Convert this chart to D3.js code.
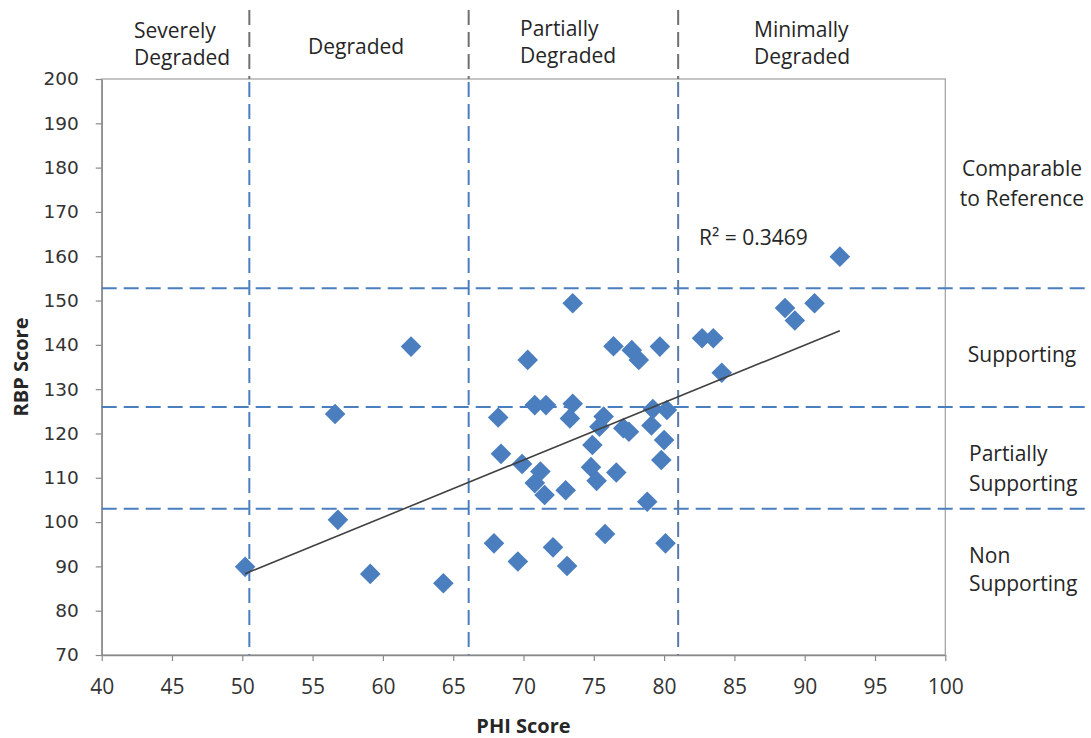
<!DOCTYPE html>
<html><head><meta charset="utf-8">
<script src="https://cdn.jsdelivr.net/npm/d3@7"></script>
<style>body{margin:0;background:#fff} svg{display:block}</style>
</head><body><svg id="c" width="1091" height="738"></svg>
<script>
// ---- data ----
const phiScores = [50.2,56.6,56.8,59.1,62.0,64.3,67.9,68.2,68.4,69.6,69.9,70.3,70.8,70.8,71.2,71.5,71.6,72.1,73.0,73.1,73.5,73.5,73.3,74.9,74.8,75.2,75.8,75.7,75.4,76.4,76.6,77.1,77.5,77.7,78.2,78.8,79.1,79.2,79.7,79.8,80.0,80.1,80.2,82.7,83.5,84.1,88.6,89.3,90.7,92.5];
const rbpScores = [89.9,124.4,100.5,88.3,139.6,86.2,95.2,123.6,115.4,91.1,113.1,136.6,126.4,108.8,111.4,106.1,126.4,94.3,107.2,90.1,149.4,126.7,123.4,117.4,112.4,109.3,97.3,123.8,121.5,139.7,111.2,121.2,120.4,138.8,136.6,104.6,121.8,125.5,139.6,114.0,118.5,95.2,125.3,141.5,141.5,133.7,148.3,145.5,149.4,159.9];
const xTickValues = [40,45,50,55,60,65,70,75,80,85,90,95,100];
const yTickValues = [70,80,90,100,110,120,130,140,150,160,170,180,190,200];
const phiThresholds = [50.5,66.1,81.0];
const rbpThresholds = [103,126,152.8];
const phiClassLabels = [["Severely","Degraded"],["Degraded"],["Partially","Degraded"],["Minimally","Degraded"]];
const rbpClassLabels = [["Comparable","to Reference"],["Supporting"],["Partially","Supporting"],["Non","Supporting"]];
const r2Label = "R\u00B2 = 0.3469";
const xTitle = "PHI Score", yTitle = "RBP Score";

const blue = "#4A7EBF";
const svg = d3.select("#c");
const x = d3.scaleLinear().domain([40,100]).range([101.7,945.3]);
const y = d3.scaleLinear().domain([70,200]).range([655,79]);
const FONT = "'Open Sans', sans-serif";

// plot frame
svg.append("rect").attr("x",x(40)).attr("y",y(200)).attr("width",x(100)-x(40)).attr("height",y(70)-y(200))
  .attr("fill","none").attr("stroke","#a6a6a6").attr("stroke-width",1.3);

// axes
const yAxis = svg.append("g").attr("transform",`translate(${x(40)},0)`)
  .call(d3.axisLeft(y).tickValues(yTickValues).tickSize(6).tickSizeOuter(0).tickPadding(17));
yAxis.selectAll("text").attr("font-family","'DejaVu Sans', sans-serif").attr("font-size","18.5px").attr("fill","#333");
const xAxis = svg.append("g").attr("transform",`translate(0,${y(70)})`)
  .call(d3.axisBottom(x).tickValues(xTickValues).tickSize(6).tickSizeOuter(0).tickPadding(18));
xAxis.selectAll("text").attr("font-family",FONT).attr("font-size","21px").attr("fill","#333");
[yAxis,xAxis].forEach(a=>{a.select(".domain").attr("stroke","#8a8a8a").attr("stroke-width",1.4);
  a.selectAll(".tick line").attr("stroke","#8a8a8a").attr("stroke-width",1.2);});

// threshold lines
const dash = "15,7";
svg.append("g").selectAll("line").data(rbpThresholds).join("line")
  .attr("x1",x(40)).attr("x2",1091).attr("y1",d=>y(d)).attr("y2",d=>y(d))
  .attr("stroke",blue).attr("stroke-width",2).attr("stroke-dasharray",dash);
const vg = svg.append("g");
vg.selectAll("line.top").data(phiThresholds).join("line").attr("class","top")
  .attr("x1",d=>x(d)).attr("x2",d=>x(d)).attr("y1",10).attr("y2",y(200))
  .attr("stroke","#707070").attr("stroke-width",2).attr("stroke-dasharray",dash);
vg.selectAll("line.in").data(phiThresholds).join("line").attr("class","in")
  .attr("x1",d=>x(d)).attr("x2",d=>x(d)).attr("y1",y(200)).attr("y2",y(70))
  .attr("stroke",(d,i)=>i===2?"#5a7aa8":blue).attr("stroke-width",2).attr("stroke-dasharray",dash).attr("stroke-dashoffset",-3);

// points
const pts = phiScores.map((p,i)=>({x:p,y:rbpScores[i]}));
svg.append("g").selectAll("path").data(pts).join("path")
  .attr("transform",d=>`translate(${x(d.x)},${y(d.y)})`)
  .attr("d","M0,-10.3L10.3,0L0,10.3L-10.3,0Z").attr("fill",blue);

// linear trendline (least squares)
const mx = d3.mean(phiScores), my = d3.mean(rbpScores);
const sxy = d3.sum(pts,d=>(d.x-mx)*(d.y-my)), sxx = d3.sum(pts,d=>(d.x-mx)**2);
const slope = sxy/sxx, icpt = my - slope*mx;
const ext = d3.extent(phiScores);
svg.append("line").attr("x1",x(ext[0])).attr("y1",y(icpt+slope*ext[0]))
  .attr("x2",x(ext[1])).attr("y2",y(icpt+slope*ext[1]))
  .attr("stroke","#404040").attr("stroke-width",1.6);

// text
function lines(g, arr, xp, y0, lh, anchor){
  arr.forEach((t,i)=>g.append("text").attr("x",xp).attr("y",y0+i*lh).attr("text-anchor",anchor||"start").text(t));
}
const tg = svg.append("g").attr("font-family",FONT).attr("font-size","21px").attr("fill","#262626");
lines(tg, phiClassLabels[0], 134, 38, 27);
lines(tg, phiClassLabels[1], 308, 54, 27);
lines(tg, phiClassLabels[2], 520, 36, 27);
lines(tg, phiClassLabels[3], 754, 37, 27);
lines(tg, rbpClassLabels[0], 1022, 176, 29.5, "middle");
lines(tg, rbpClassLabels[1], 1022, 362, 29, "middle");
lines(tg, rbpClassLabels[2], 969, 461, 30);
lines(tg, rbpClassLabels[3], 969, 563, 28);
tg.append("text").attr("x",699).attr("y",245).text(r2Label);

svg.append("text").attr("x",(x(40)+x(100))/2).attr("y",733).attr("text-anchor","middle")
  .attr("font-family",FONT).attr("font-weight","bold").attr("font-size","20px").attr("fill","#262626").text(xTitle);
svg.append("text").attr("transform",`translate(28,${(y(70)+y(200))/2}) rotate(-90)`).attr("text-anchor","middle")
  .attr("font-family",FONT).attr("font-weight","bold").attr("font-size","20px").attr("fill","#262626").text(yTitle);
</script></body></html>
